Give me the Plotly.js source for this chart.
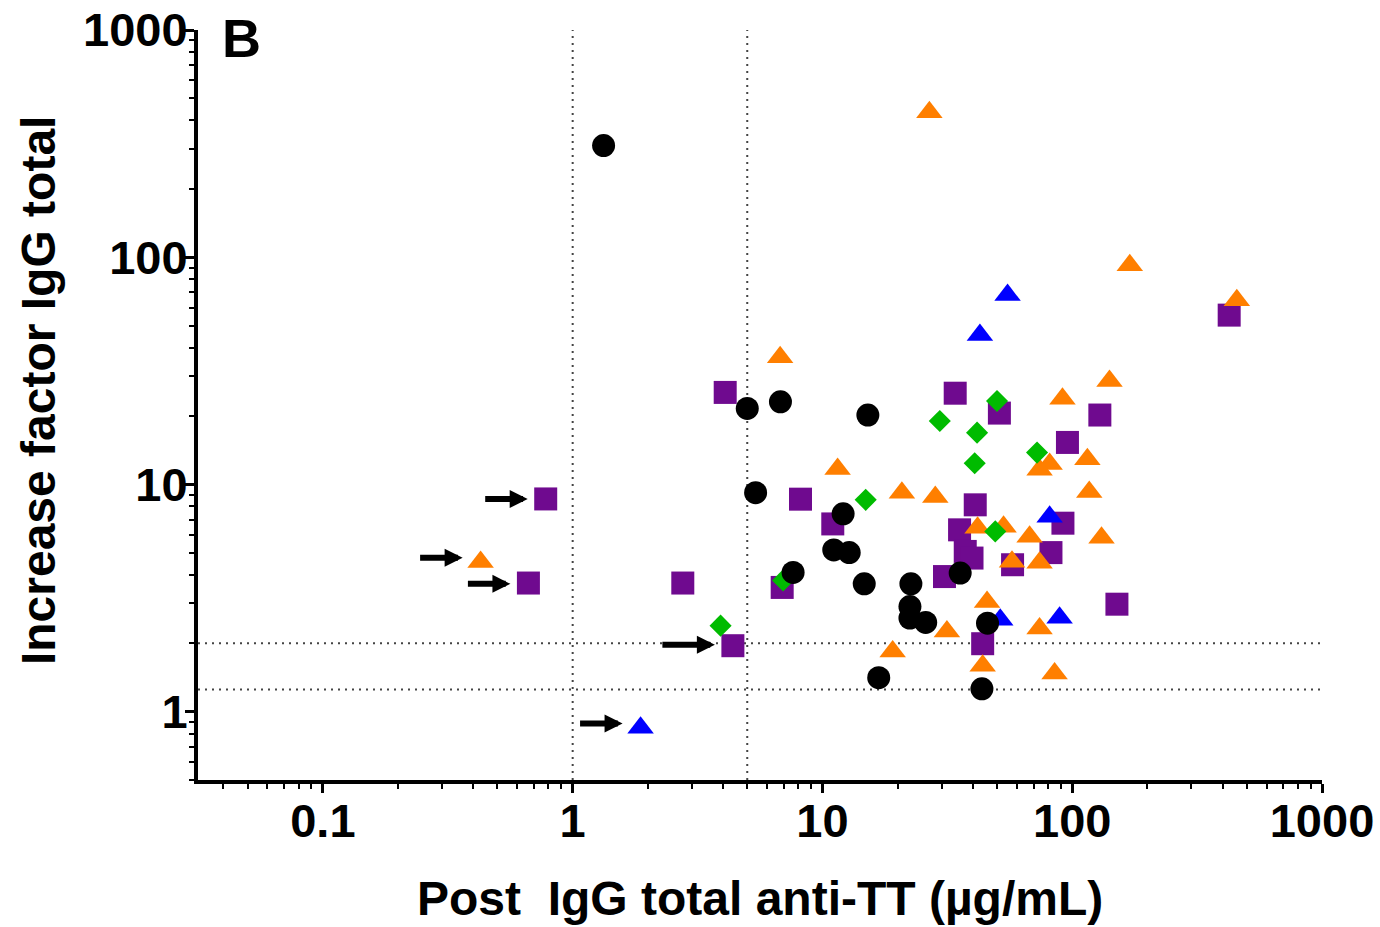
<!DOCTYPE html>
<html>
<head>
<meta charset="utf-8">
<script src="https://cdn.plot.ly/plotly-3.0.1.min.js"></script>
<style>
html,body{margin:0;padding:0;background:#fff;}
#chart{width:1380px;height:927px;}
</style>
</head>
<body>
<div id="chart"></div>
<script>
// ---- Data (x: Post IgG total anti-TT, y: increase factor) ----
const purpleX = [0.78, 0.665, 2.76, 4.38, 4.08, 8.17, 11.0, 6.90, 34.0, 51.1, 40.9, 35.4, 37.3, 39.7, 30.8, 57.7, 43.8, 91.8, 82.2, 95.7, 129, 151, 425];
const purpleY = [8.63, 3.68, 3.68, 1.95, 25.4, 8.61, 6.70, 3.52, 25.2, 20.6, 8.13, 6.31, 5.07, 4.74, 3.93, 4.43, 1.99, 6.75, 5.01, 15.3, 20.2, 2.97, 55.6];

const orangeX = [26.8, 6.77, 170, 456, 141, 91.4, 115, 81.2, 74.0, 117, 11.5, 20.8, 28.3, 41.8, 53.1, 67.5, 131, 57.4, 74.0, 45.6, 31.5, 74.0, 19.1, 43.8, 85.0, 0.428];
const orangeY = [434, 36.3, 92.2, 64.7, 28.5, 23.8, 12.9, 12.3, 11.6, 9.27, 11.7, 9.18, 8.81, 6.44, 6.51, 5.88, 5.82, 4.57, 4.52, 3.04, 2.25, 2.32, 1.84, 1.59, 1.47, 4.56];

const blueX = [55.1, 42.7, 81.2, 51.5, 89.0, 1.87];
const blueY = [68.1, 45.4, 7.2, 2.54, 2.59, 0.85];

const greenX = [50.0, 29.5, 41.6, 40.7, 72.3, 14.9, 49.2, 6.96, 3.91];
const greenY = [23.3, 19.0, 16.9, 12.4, 13.8, 8.55, 6.21, 3.78, 2.39];

const blackX = [1.33, 5.0, 6.79, 15.2, 5.40, 12.1, 11.1, 12.8, 7.63, 14.7, 22.6, 35.6, 22.4, 22.4, 25.9, 45.8, 16.8, 43.5];
const blackY = [310, 21.6, 23.1, 20.2, 9.2, 7.42, 5.15, 5.01, 4.10, 3.65, 3.65, 4.07, 2.90, 2.58, 2.47, 2.45, 1.41, 1.26];

// arrows pointing at marked subjects (target x, target y)
const arrowX = [0.78, 0.428, 0.665, 4.38, 1.87];
const arrowY = [8.63, 4.75, 3.65, 1.97, 0.886];

// threshold reference lines
const vLines = [1, 5];
const hLines = [1.25, 2];

const xTickVals = [0.1, 1, 10, 100, 1000];
const xTickText = ['0.1', '1', '10', '100', '1000'];
const yTickVals = [1, 10, 100, 1000];
const yTickText = ['1', '10', '100', '1000'];

const xTitle = 'Post\u00a0 IgG total anti-TT (\u00b5g/mL)';
const yTitle = 'Increase factor IgG total';
const panelLabel = 'B';

const FONT = 'Liberation Sans, Arial, Helvetica, sans-serif';

function minorLogTicks(startExp, endExp) {
  const out = [];
  for (let e = startExp; e <= endExp; e++) {
    for (let m = 2; m <= 9; m++) out.push(m * Math.pow(10, e));
  }
  return out;
}

const traces = [
  {x: purpleX, y: purpleY, mode: 'markers', type: 'scatter',
   marker: {symbol: 'square', size: 23, color: '#6f0a8f'}},
  {x: orangeX, y: orangeY, mode: 'markers', type: 'scatter',
   marker: {symbol: 'triangle-up', size: 23, color: '#ff7f00'}},
  {x: blueX, y: blueY, mode: 'markers', type: 'scatter',
   marker: {symbol: 'triangle-up', size: 23, color: '#0000ff'}},
  {x: greenX, y: greenY, mode: 'markers', type: 'scatter',
   marker: {symbol: 'diamond', size: 17, color: '#00bb00'}},
  {x: blackX, y: blackY, mode: 'markers', type: 'scatter',
   marker: {symbol: 'circle', size: 23, color: '#000000'}}
];

const shapes = [];
vLines.forEach(v => shapes.push({type: 'line', xref: 'x', yref: 'paper', x0: v, x1: v, y0: 0, y1: 1,
  line: {color: '#444', width: 2, dash: '2px,5px'}, layer: 'below'}));
hLines.forEach(h => shapes.push({type: 'line', xref: 'paper', yref: 'y', x0: 0, x1: 1, y0: h, y1: h,
  line: {color: '#444', width: 2, dash: '2px,5px'}, layer: 'below'}));

const annotations = arrowX.map((ax, i) => ({
  x: Math.log10(ax), y: Math.log10(arrowY[i]), xref: 'x', yref: 'y',
  text: '', showarrow: true, arrowhead: 2, arrowsize: 0.6, arrowwidth: 6, arrowcolor: '#000',
  ax: (i === 3 ? -72 : -62), ay: 0, standoff: 18
}));
annotations.push({
  text: panelLabel, xref: 'paper', yref: 'paper', x: 0.039, y: 0.989, xanchor: 'center', yanchor: 'middle',
  showarrow: false, font: {family: FONT, size: 54, color: '#000', weight: 'bold'}
});
annotations.push({
  text: yTitle, xref: 'paper', yref: 'paper', x: -0.1423, y: 0.52, xanchor: 'center', yanchor: 'middle',
  textangle: -90, showarrow: false, font: {family: FONT, size: 48, color: '#000', weight: 'bold'}
});
annotations.push({
  text: xTitle, xref: 'paper', yref: 'paper', x: 0.5, y: -0.158, xanchor: 'center', yanchor: 'middle',
  showarrow: false, font: {family: FONT, size: 48, color: '#000', weight: 'bold'}
});

const axisCommon = {
  type: 'log', tickmode: 'array',
  ticks: 'outside', ticklen: 9, tickwidth: 3, tickcolor: '#000',
  showline: true, linewidth: 4, linecolor: '#000', showgrid: false, zeroline: false,
  tickfont: {family: FONT, size: 47, color: '#000', weight: 'bold'},
  ticklabelstandoff: -12
};

const layout = {
  width: 1380, height: 927,
  margin: {l: 198, r: 58, t: 30, b: 147},
  paper_bgcolor: '#fff', plot_bgcolor: '#fff',
  showlegend: false,
  xaxis: Object.assign({}, axisCommon, {
    range: [-1.5, 3], tickvals: xTickVals, ticktext: xTickText,
    minor: {tickmode: 'array', tickvals: minorLogTicks(-2, 2), ticks: 'outside', ticklen: 5, tickwidth: 2, tickcolor: '#000', showgrid: false}
  }),
  yaxis: Object.assign({}, axisCommon, {
    range: [Math.log10(0.5), 3], tickvals: yTickVals, ticktext: yTickText,
    minor: {tickmode: 'array', tickvals: minorLogTicks(-1, 2), ticks: 'outside', ticklen: 5, tickwidth: 2, tickcolor: '#000', showgrid: false}
  }),
  shapes: shapes,
  annotations: annotations
};

Plotly.newPlot('chart', traces, layout, {displayModeBar: false, staticPlot: true});
</script>
</body>
</html>
